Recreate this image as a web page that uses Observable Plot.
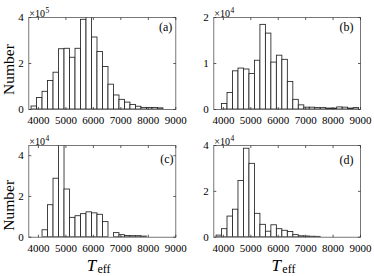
<!DOCTYPE html>
<html><head><meta charset="utf-8">
<script src="https://cdn.jsdelivr.net/npm/d3@7"></script>
<script src="https://cdn.jsdelivr.net/npm/@observablehq/plot@0.6"></script>
<style>
html,body{margin:0;padding:0;background:#fff;}
#fig{position:relative;width:374px;height:276px;overflow:hidden;}
#fig svg{position:absolute;}
</style></head>
<body><div id="fig"></div>
<script>
// Bin left edges (K) and bin width
const binEdges = [3750,3950,4150,4350,4550,4750,4950,5150,5350,5550,5750,5950,6150,6350,6550,6750,6950,7150,7350,7550,7750,7950,8150,8350,8550,8750];
const binWidth = 200;
// Counts per bin for each panel
const countsA = [13000,50000,77000,124000,160000,262000,264000,225000,264000,390000,460000,313000,250000,185000,108000,61000,42000,30000,20000,12000,7000,7000,7000,5000,0,0];
const countsB = [0,1200,3600,8300,8900,8700,7700,10600,18400,16500,10200,11700,10800,6000,2100,900,400,400,300,300,200,200,450,400,200,300];
const countsC = [0,0,3400,15700,28700,50000,23400,9500,10300,11300,12200,11700,11000,7400,0,2000,1000,600,500,500,300,0,0,0,0,0];
const countsD = [700,3500,9000,12000,24500,38600,32000,10200,5400,2400,5200,3500,2800,2300,900,400,300,200,150,0,0,0,0,0,0,0];
// Axis ticks
const xTicks = [4000,5000,6000,7000,8000,9000];
const xDomain = [3650, 9000];
const yTicksA = [0,200000,400000];
const yTicksB = [0,10000,20000];
const yTicksC = [0,20000,40000];
const yTicksD = [0,20000,40000];
const panelLabels = ["(a)","(b)","(c)","(d)"];
const exps = [5,4,4,4];
const yMax = [400000,20000,45000,40000];

const FONT = "Liberation Serif, Times New Roman, serif";
const tickShape = {draw(ctx, l){ ctx.moveTo(0,0); ctx.lineTo(0,-l); }};

const layouts = [
  {counts: countsA, yticks: yTicksA, left:0,   top:0,   w:187, h:138, ml:28.3, mr:11.7, mt:17, mb:29,   lab:{dx:-3.5,dy:4.5}, ylab:6,  xlab:false},
  {counts: countsB, yticks: yTicksB, left:185, top:0,   w:189, h:138, ml:28.3, mr:14,   mt:17, mb:29,   lab:{dx:-7,dy:4.5},   ylab:null, xlab:false},
  {counts: countsC, yticks: yTicksC, left:0,   top:128, w:187, h:148, ml:28.3, mr:11.7, mt:17, mb:39.3, lab:{dx:-2.3,dy:8.5}, ylab:14, xlab:true},
  {counts: countsD, yticks: yTicksD, left:185, top:128, w:189, h:148, ml:28.3, mr:14,   mt:17, mb:39.3, lab:{dx:-7,dy:9.5},   ylab:null, xlab:true}
];

const fig = document.getElementById("fig");
layouts.forEach((L, p) => {
  const data = binEdges.map((x, i) => ({x1: x, x2: x + binWidth, y: L.counts[i]})).filter(d => d.y > 0);
  const ymax = yMax[p];
  const tk = {fill: "none", stroke: "#333", strokeWidth: 0.8, strokeLinecap: "butt", length: 2.5, anchor: "start", shape: tickShape};
  const marks = [
    Plot.rectY(data, {x1: "x1", x2: "x2", y: "y", fill: "white", stroke: "#222", strokeWidth: 0.85, clip: true}),
    Plot.frame({stroke: "#555", strokeWidth: 0.8}),
    Plot.vector(xTicks, {...tk, x: d => d, y: 0, rotate: 0}),
    Plot.vector(xTicks, {...tk, x: d => d, y: ymax, rotate: 180}),
    Plot.vector(L.yticks, {...tk, x: xDomain[0], y: d => d, rotate: 90}),
    Plot.vector(L.yticks, {...tk, x: xDomain[1], y: d => d, rotate: -90}),
    Plot.axisX({ticks: xTicks, tickSize: 0, tickPadding: 6.5, tickFormat: d => String(d), fontSize: 11, label: null}),
    Plot.axisY({ticks: L.yticks, tickSize: 0, tickPadding: 5, tickFormat: d => String(d / Math.pow(10, exps[p])), fontSize: 11, label: null}),
    Plot.text(["\u00d710"], {frameAnchor: "top-left", textAnchor: "start", lineAnchor: "bottom", dx: 0.5, dy: -1, fontSize: 10}),
    Plot.text([String(exps[p])], {frameAnchor: "top-left", textAnchor: "start", lineAnchor: "bottom", dx: 16.8, dy: -5, fontSize: 7.5}),
    Plot.text([panelLabels[p]], {frameAnchor: "top-right", textAnchor: "end", lineAnchor: "top", dx: L.lab.dx, dy: L.lab.dy, fontSize: 12})
  ];
  if (L.ylab !== null) {
    marks.push(Plot.text(["Number"], {frameAnchor: "left", rotate: -90, dx: -19.8, dy: L.ylab, fontSize: 15.5, lineAnchor: "middle", textAnchor: "middle"}));
  }
  if (L.xlab) {
    marks.push(Plot.text(["T"], {frameAnchor: "bottom", textAnchor: "middle", lineAnchor: "middle", dx: -10.8, dy: 28, fontSize: 17, fontStyle: "italic"}));
    marks.push(Plot.text(["eff"], {frameAnchor: "bottom", textAnchor: "start", lineAnchor: "middle", dx: -4.8, dy: 32, fontSize: 12}));
  }
  const svg = Plot.plot({
    width: L.w, height: L.h,
    marginLeft: L.ml, marginRight: L.mr, marginTop: L.mt, marginBottom: L.mb,
    style: {fontFamily: FONT, background: "transparent", overflow: "visible", color: "#000"},
    x: {domain: xDomain},
    y: {domain: [0, ymax]},
    marks
  });
  svg.style.left = L.left + "px";
  svg.style.top = L.top + "px";
  svg.style.maxWidth = "none";
  fig.appendChild(svg);
});
</script>
</body></html>
